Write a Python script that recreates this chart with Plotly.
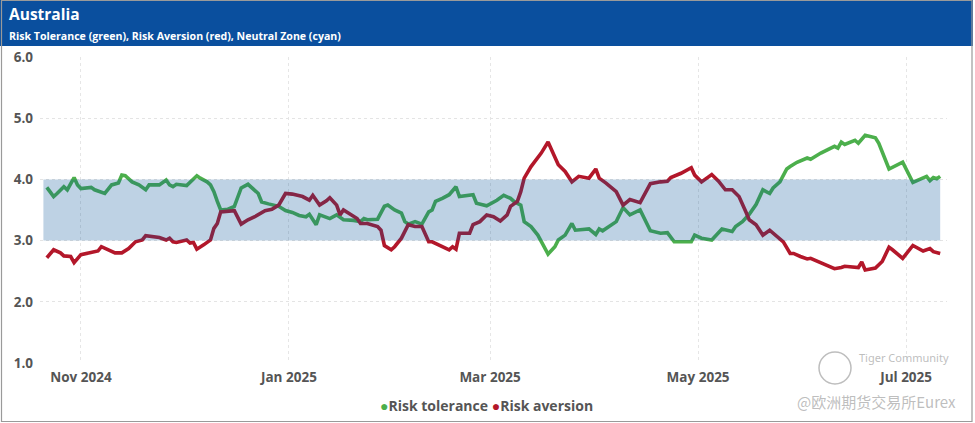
import plotly.graph_objects as go

# ---------------- data ----------------
tol_dates = [
    "2024-10-22", "2024-10-24", "2024-10-25", "2024-10-27", "2024-10-28", "2024-10-30", "2024-10-31",
    "2024-11-01", "2024-11-04", "2024-11-05", "2024-11-08", "2024-11-10", "2024-11-12", "2024-11-13",
    "2024-11-14", "2024-11-16", "2024-11-18", "2024-11-20", "2024-11-21", "2024-11-24", "2024-11-26",
    "2024-11-27", "2024-11-28", "2024-11-29", "2024-12-02", "2024-12-05", "2024-12-06", "2024-12-08",
    "2024-12-09", "2024-12-10", "2024-12-11", "2024-12-12", "2024-12-14", "2024-12-16", "2024-12-18",
    "2024-12-20", "2024-12-23", "2024-12-24", "2024-12-26", "2024-12-29", "2024-12-31", "2025-01-02",
    "2025-01-04", "2025-01-06", "2025-01-07", "2025-01-09", "2025-01-10", "2025-01-13", "2025-01-15",
    "2025-01-17", "2025-01-20", "2025-01-22", "2025-01-23", "2025-01-24", "2025-01-27", "2025-01-29",
    "2025-01-30", "2025-02-01", "2025-02-03", "2025-02-04", "2025-02-05", "2025-02-07", "2025-02-09",
    "2025-02-11", "2025-02-12", "2025-02-13", "2025-02-15", "2025-02-17", "2025-02-19", "2025-02-20",
    "2025-02-24", "2025-02-25", "2025-02-28", "2025-03-03", "2025-03-05", "2025-03-07", "2025-03-08",
    "2025-03-10", "2025-03-11", "2025-03-13", "2025-03-15", "2025-03-17", "2025-03-18", "2025-03-20",
    "2025-03-21", "2025-03-23", "2025-03-25", "2025-03-26", "2025-03-30", "2025-04-01", "2025-04-02",
    "2025-04-03", "2025-04-05", "2025-04-07", "2025-04-09", "2025-04-11", "2025-04-14", "2025-04-15",
    "2025-04-17", "2025-04-20", "2025-04-22", "2025-04-24", "2025-04-29", "2025-04-30", "2025-05-02",
    "2025-05-05", "2025-05-07", "2025-05-08", "2025-05-11", "2025-05-12", "2025-05-14", "2025-05-16",
    "2025-05-18", "2025-05-20", "2025-05-22", "2025-05-23", "2025-05-25", "2025-05-27", "2025-05-28",
    "2025-05-30", "2025-06-02", "2025-06-03", "2025-06-06", "2025-06-10", "2025-06-11", "2025-06-12",
    "2025-06-13", "2025-06-16", "2025-06-17", "2025-06-19", "2025-06-22", "2025-06-23", "2025-06-26",
    "2025-06-30", "2025-07-03", "2025-07-07", "2025-07-08", "2025-07-09", "2025-07-10", "2025-07-11",
]
risk_tolerance = [
    3.87, 3.72, 3.77, 3.88, 3.83, 4.03, 3.91,
    3.85, 3.87, 3.83, 3.77, 3.91, 3.94, 4.07,
    4.06, 3.96, 3.91, 3.83, 3.91, 3.91, 3.99,
    3.91, 3.88, 3.92, 3.90, 4.06, 4.02, 3.96,
    3.91, 3.80, 3.64, 3.50, 3.51, 3.56, 3.86,
    3.92, 3.77, 3.63, 3.60, 3.56, 3.49, 3.46,
    3.41, 3.39, 3.43, 3.26, 3.42, 3.36, 3.42,
    3.34, 3.33, 3.31, 3.36, 3.34, 3.35, 3.56,
    3.58, 3.50, 3.45, 3.31, 3.27, 3.31, 3.27,
    3.47, 3.50, 3.64, 3.69, 3.75, 3.88, 3.72,
    3.75, 3.61, 3.57, 3.66, 3.74, 3.69, 3.64,
    3.58, 3.31, 3.23, 3.09, 2.90, 2.78, 2.90,
    3.01, 3.09, 3.28, 3.17, 3.19, 3.10, 3.19,
    3.16, 3.23, 3.31, 3.54, 3.42, 3.50, 3.39,
    3.16, 3.12, 3.13, 2.98, 2.98, 3.09, 3.04,
    3.01, 3.12, 3.19, 3.15, 3.23, 3.31, 3.43,
    3.59, 3.83, 3.77, 3.86, 3.96, 4.17, 4.21,
    4.28, 4.35, 4.33, 4.43, 4.54, 4.51, 4.61,
    4.57, 4.64, 4.59, 4.72, 4.68, 4.59, 4.17,
    4.28, 3.95, 4.05, 3.98, 4.03, 4.01, 4.05,
]

av_dates = [
    "2024-10-22", "2024-10-24", "2024-10-26", "2024-10-27", "2024-10-29", "2024-10-30", "2024-11-01",
    "2024-11-03", "2024-11-05", "2024-11-06", "2024-11-07", "2024-11-09", "2024-11-11", "2024-11-13",
    "2024-11-15", "2024-11-17", "2024-11-19", "2024-11-20", "2024-11-21", "2024-11-24", "2024-11-26",
    "2024-11-27", "2024-11-28", "2024-11-29", "2024-12-02", "2024-12-03", "2024-12-04", "2024-12-05",
    "2024-12-07", "2024-12-09", "2024-12-10", "2024-12-11", "2024-12-12", "2024-12-16", "2024-12-18",
    "2024-12-20", "2024-12-22", "2024-12-25", "2024-12-27", "2024-12-29", "2024-12-31", "2025-01-02",
    "2025-01-05", "2025-01-07", "2025-01-08", "2025-01-10", "2025-01-12", "2025-01-13", "2025-01-15",
    "2025-01-16", "2025-01-17", "2025-01-19", "2025-01-21", "2025-01-22", "2025-01-24", "2025-01-27",
    "2025-01-28", "2025-01-29", "2025-01-31", "2025-02-01", "2025-02-03", "2025-02-05", "2025-02-07",
    "2025-02-09", "2025-02-11", "2025-02-12", "2025-02-15", "2025-02-17", "2025-02-18", "2025-02-19",
    "2025-02-20", "2025-02-23", "2025-02-24", "2025-02-26", "2025-02-28", "2025-03-02", "2025-03-04",
    "2025-03-06", "2025-03-07", "2025-03-09", "2025-03-10", "2025-03-11", "2025-03-13", "2025-03-16",
    "2025-03-18", "2025-03-19", "2025-03-21", "2025-03-23", "2025-03-25", "2025-03-27", "2025-03-30",
    "2025-04-01", "2025-04-02", "2025-04-04", "2025-04-07", "2025-04-09", "2025-04-11", "2025-04-14",
    "2025-04-17", "2025-04-20", "2025-04-22", "2025-04-23", "2025-04-26", "2025-04-29", "2025-04-30",
    "2025-05-02", "2025-05-05", "2025-05-07", "2025-05-09", "2025-05-11", "2025-05-13", "2025-05-15",
    "2025-05-16", "2025-05-18", "2025-05-20", "2025-05-22", "2025-05-24", "2025-05-26", "2025-05-28",
    "2025-05-29", "2025-05-31", "2025-06-02", "2025-06-03", "2025-06-06", "2025-06-10", "2025-06-12",
    "2025-06-13", "2025-06-17", "2025-06-18", "2025-06-19", "2025-06-22", "2025-06-24", "2025-06-26",
    "2025-06-27", "2025-06-30", "2025-07-03", "2025-07-06", "2025-07-08", "2025-07-09", "2025-07-11",
]
risk_aversion = [
    2.72, 2.85, 2.80, 2.75, 2.74, 2.64, 2.77,
    2.80, 2.82, 2.83, 2.90, 2.85, 2.80, 2.80,
    2.87, 2.98, 3.01, 3.08, 3.07, 3.05, 3.01,
    3.04, 2.98, 2.97, 3.01, 2.96, 2.97, 2.86,
    2.93, 3.01, 3.20, 3.28, 3.47, 3.49, 3.27,
    3.34, 3.39, 3.49, 3.51, 3.58, 3.77, 3.76,
    3.72, 3.66, 3.74, 3.58, 3.65, 3.70, 3.58,
    3.42, 3.50, 3.43, 3.36, 3.28, 3.28, 3.23,
    3.17, 2.92, 2.85, 2.90, 3.04, 3.26, 3.23,
    3.23, 2.98, 2.98, 2.90, 2.85, 2.90, 2.86,
    3.12, 3.12, 3.26, 3.31, 3.42, 3.39, 3.32,
    3.42, 3.56, 3.64, 3.80, 4.02, 4.21, 4.43,
    4.61, 4.48, 4.24, 4.13, 3.96, 4.05, 4.02,
    4.17, 4.02, 3.94, 3.80, 3.58, 3.67, 3.62,
    3.93, 3.96, 3.97, 4.03, 4.10, 4.19, 4.07,
    3.96, 4.08, 3.97, 3.83, 3.83, 3.72, 3.47,
    3.34, 3.26, 3.09, 3.17, 3.07, 2.98, 2.79,
    2.79, 2.74, 2.70, 2.71, 2.64, 2.54, 2.56,
    2.58, 2.56, 2.65, 2.52, 2.55, 2.66, 2.89,
    2.85, 2.71, 2.92, 2.83, 2.87, 2.82, 2.79,
]

series_names = ["Risk tolerance", "Risk aversion"]
neutral_low, neutral_high = 3.0, 4.0
band_start = "2024-10-21"
band_end = "2025-07-11"
x_range = ["2024-10-20", "2025-07-13"]
y_ticks = [1, 2, 3, 4, 5, 6]

# ---------------- styling ----------------
W, H = 975, 423
ML, MR, MT, MB = 40, 28, 57, 60
PW, PH = W - ML - MR, H - MT - MB
HEADER_BLUE = "#0a4f9e"
GREEN = "#4caf4c"
RED = "#b3172a"
TEXT = "#555555"
WM = "rgba(178,178,178,0.85)"
FONT = "Open Sans"


def px(xp):
    return (xp - ML) / PW


def py(yp):
    return (H - MB - yp) / PH


fig = go.Figure()

fig.add_trace(go.Scatter(x=tol_dates, y=risk_tolerance, mode="lines",
                         line=dict(color=GREEN, width=3.6), name=series_names[0]))
fig.add_trace(go.Scatter(x=av_dates, y=risk_aversion, mode="lines",
                         line=dict(color=RED, width=3.6), name=series_names[1]))

shapes = [
    # neutral zone band (semi-transparent, drawn above lines)
    dict(type="rect", xref="x", yref="y", x0=band_start, x1=band_end,
         y0=neutral_low, y1=neutral_high, fillcolor="rgba(4,80,152,0.26)",
         line=dict(width=0), layer="above"),
    # header bar
    dict(type="rect", xref="paper", yref="paper", x0=px(0), x1=px(973),
         y0=py(46), y1=py(0), fillcolor=HEADER_BLUE, line=dict(width=0), layer="below"),
    # outer frame
    dict(type="rect", xref="paper", yref="paper", x0=px(1.5), x1=px(972),
         y0=py(421.5), y1=py(0.5), fillcolor="rgba(0,0,0,0)",
         line=dict(color="#9a9a9a", width=1.2), layer="above"),
    # watermark logo ring
    dict(type="circle", xref="paper", yref="paper", x0=px(819), x1=px(851),
         y0=py(384), y1=py(352), fillcolor="rgba(0,0,0,0)",
         line=dict(color=WM, width=1.5), layer="above"),
]

legend_text = (f"<span style='color:{GREEN}'>●</span><b>{series_names[0]}</b> "
               f"<span style='color:{RED}'>●</span><b>{series_names[1]}</b>")

annotations = [
    dict(text="<b>Australia</b>", xref="paper", yref="paper", x=px(7), y=py(14),
         xanchor="left", yanchor="middle", showarrow=False,
         font=dict(family=FONT, size=15.5, color="white")),
    dict(text="<b>Risk Tolerance (green), Risk Aversion (red), Neutral Zone (cyan)</b>",
         xref="paper", yref="paper", x=px(7), y=py(36), xanchor="left", yanchor="middle",
         showarrow=False, font=dict(family=FONT, size=10.6, color="white")),
    dict(text=legend_text, xref="paper", yref="paper", x=px(486), y=py(405),
         xanchor="center", yanchor="middle", showarrow=False,
         font=dict(family=FONT, size=14, color=TEXT)),
    dict(text="Tiger Community", xref="paper", yref="paper", x=px(857), y=py(357),
         xanchor="left", yanchor="middle", showarrow=False,
         font=dict(family="Noto Sans", size=11, color=WM)),
    dict(text="@欧洲期货交易所Eurex", xref="paper", yref="paper", x=px(958), y=py(401),
         xanchor="right", yanchor="middle", showarrow=False,
         font=dict(family="Noto Sans CJK SC", size=15, color=WM)),
]

fig.update_layout(
    width=W, height=H,
    margin=dict(l=ML, r=MR, t=MT, b=MB, pad=0),
    paper_bgcolor="white", plot_bgcolor="white",
    shapes=shapes, annotations=annotations, showlegend=False,
    font=dict(family=FONT, color=TEXT),
    xaxis=dict(type="date", range=x_range, tick0="2024-11-01", dtick="M2",
               tickformat="%b %Y", showgrid=True, gridcolor="#e6e6e6", griddash="dot",
               gridwidth=1, zeroline=False, showline=False, ticks="",
               tickfont=dict(family=FONT, size=13.5, color=TEXT, weight="bold"),
               ticklabelstandoff=4),
    yaxis=dict(range=[1, 6], tickvals=y_ticks, tickformat=".1f", showgrid=True,
               gridcolor="#e4e4e4", griddash="dot", gridwidth=1, zeroline=False,
               showline=False, ticks="",
               tickfont=dict(family=FONT, size=13.5, color=TEXT, weight="bold"),
               ticklabelstandoff=6),
)

fig.write_html("out.html", config={"displayModeBar": False},
               post_script="document.body.style.margin='0';")
